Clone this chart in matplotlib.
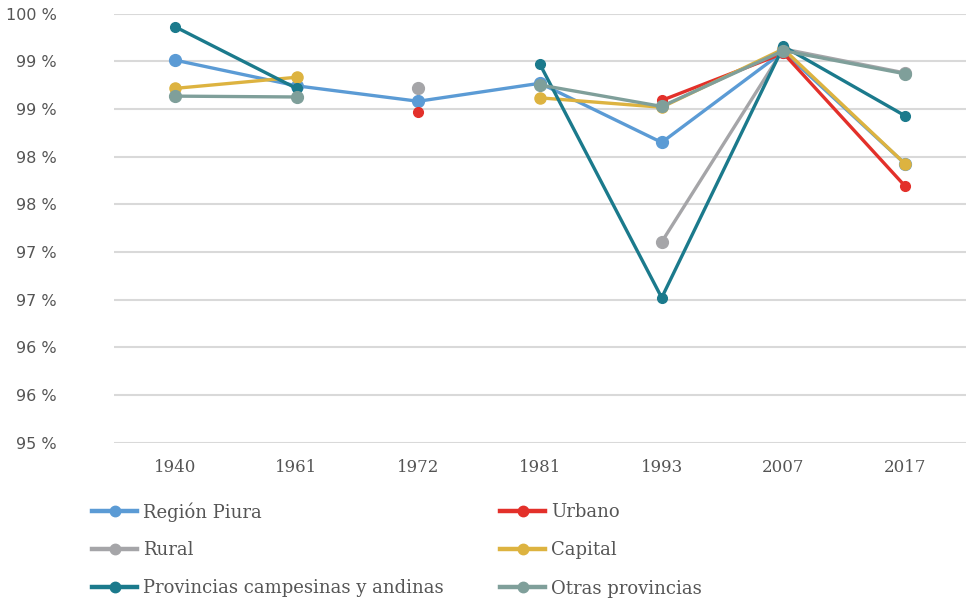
import numpy as np
import matplotlib
matplotlib.use("Agg")
import matplotlib.pyplot as plt
from matplotlib.lines import Line2D

years = ["1940", "1961", "1972", "1981", "1993", "2007", "2017"]
nan = np.nan
region_piura = [99.46, 99.16, 98.98, 99.19, 98.50, 99.56, 98.25]
urbano = [nan, nan, 98.85, nan, 98.99, 99.54, 97.99]
rural = [nan, nan, 99.13, nan, 97.34, 99.59, 99.31]
capital = [99.13, 99.26, nan, 99.02, 98.91, 99.59, 98.25]
prov_campesinas = [99.85, 99.13, nan, 99.41, 96.69, 99.62, 98.81]
otras_prov = [99.04, 99.03, nan, 99.17, 98.92, 99.57, 99.30]

names = ["Región Piura", "Urbano", "Rural", "Capital",
         "Provincias campesinas y andinas", "Otras provincias"]
series = [region_piura, urbano, rural, capital, prov_campesinas, otras_prov]
colors = ["#5B9BD5", "#E3302A", "#A5A5A8", "#DDB340", "#1B7A8C", "#7F9F9A"]
msizes = [8.5, 7, 8.5, 8, 7, 8.5]

ytick_vals = np.linspace(95, 100, 10)
ytick_labels = [f"{round(v)} %" for v in ytick_vals]

fig = plt.figure(figsize=(9.66, 5.99), dpi=100)
ax = fig.add_axes([0.118, 0.261, 0.882, 0.716])

x = np.arange(len(years))
handles = []
for name, vals, c, ms in zip(names, series, colors, msizes):
    ax.plot(x, vals, color=c, lw=2.4, marker="o", ms=ms, solid_capstyle="round")
    handles.append(Line2D([0], [0], color=c, lw=3.2, marker="o", ms=7.5))

ax.set_xlim(-0.5, len(years) - 0.5)
ax.set_ylim(95, 100)
ax.set_yticks(ytick_vals)
ax.set_yticklabels(ytick_labels, fontsize=11.5, color="#555555", family="DejaVu Sans")
ax.set_xticks(x)
ax.set_xticklabels(years, fontsize=12, color="#555555", family="DejaVu Serif")
ax.tick_params(axis="both", length=0)
ax.tick_params(axis="x", pad=12)
ax.tick_params(axis="y", pad=41)
ax.grid(axis="y", color="#D9D9D9", lw=1.5)
ax.set_axisbelow(True)
for s in ax.spines.values():
    s.set_visible(False)

leg_kw = dict(frameon=False, handlelength=2.5, handletextpad=0.33,
              prop={"family": "DejaVu Serif", "size": 13},
              labelcolor="#555555", loc="upper left", borderaxespad=0, borderpad=0)
order1 = [0, 2, 4]
order2 = [1, 3, 5]
fig.legend([handles[i] for i in order1], [names[i] for i in order1],
           bbox_to_anchor=(92 / 966, 1 - 502 / 599), labelspacing=1.09, **leg_kw)
fig.legend([handles[i] for i in order2], [names[i] for i in order2],
           bbox_to_anchor=(500 / 966, 1 - 503 / 599), labelspacing=1.13, **leg_kw)

fig.savefig("out.png", dpi=100)
